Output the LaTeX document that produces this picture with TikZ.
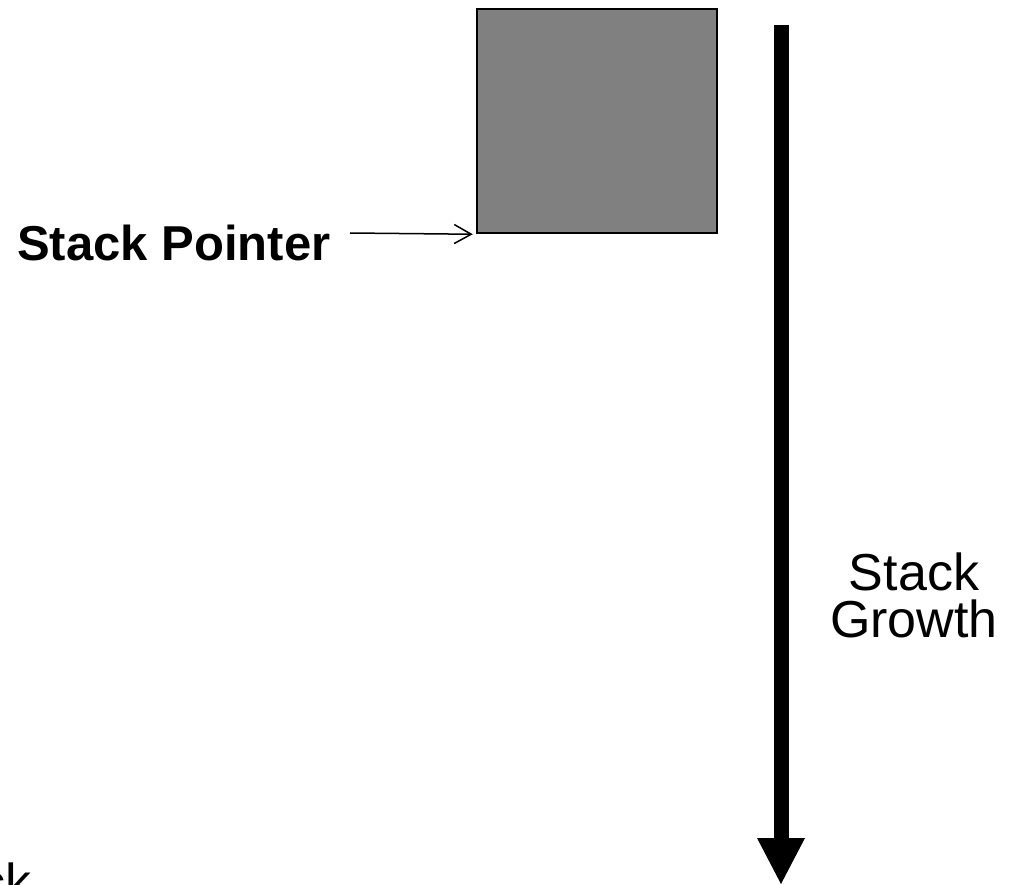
\documentclass[tikz,border=0pt]{standalone}
\usepackage{fontspec}
\setmainfont{Liberation Sans}
\usetikzlibrary{arrows.meta}
\begin{document}
\begin{tikzpicture}[x=1pt,y=-1pt,
  label/.style={inner sep=0pt, font=\fontsize{52}{47}\selectfont, align=center},
  boldlabel/.style={inner sep=0pt, font=\fontsize{49}{49}\selectfont\bfseries},
  frame/.style={draw=black, line width=2.5pt, fill={rgb,255:red,128;green,128;blue,128},
                inner sep=0pt, minimum width=240pt, minimum height=224pt},
  pointer/.style={line width=1.5pt, -{Straight Barb[length=17pt,width=19pt,line width=1.5pt]}},
  growth/.style={line width=15pt, -{Triangle[length=46pt,width=48pt,line width=0pt]}}
]
\useasboundingbox (0,0) rectangle (1015,885);
\clip (0,0) rectangle (1015,885);

% top stack frame
\node[frame] (frame) at (597,121) {};

% stack pointer label and arrow
\node[boldlabel, anchor=base west] (sp) at (17,261) {Stack Pointer};
\coordinate (spstart) at (350,233);
\draw[pointer] (spstart) -- ([xshift=-3pt]frame.south west);

% stack growth direction
\coordinate (gtop) at (781,25);
\coordinate (gbot) at (781,884);
\draw[growth] (gtop) -- (gbot);
\node[label, anchor=north] (gl) at (914,553) {Stack\\Growth};

% label running off the lower left edge
\node[label, anchor=base east] (bl) at (32,900) {Stack};
\end{tikzpicture}
\end{document}
